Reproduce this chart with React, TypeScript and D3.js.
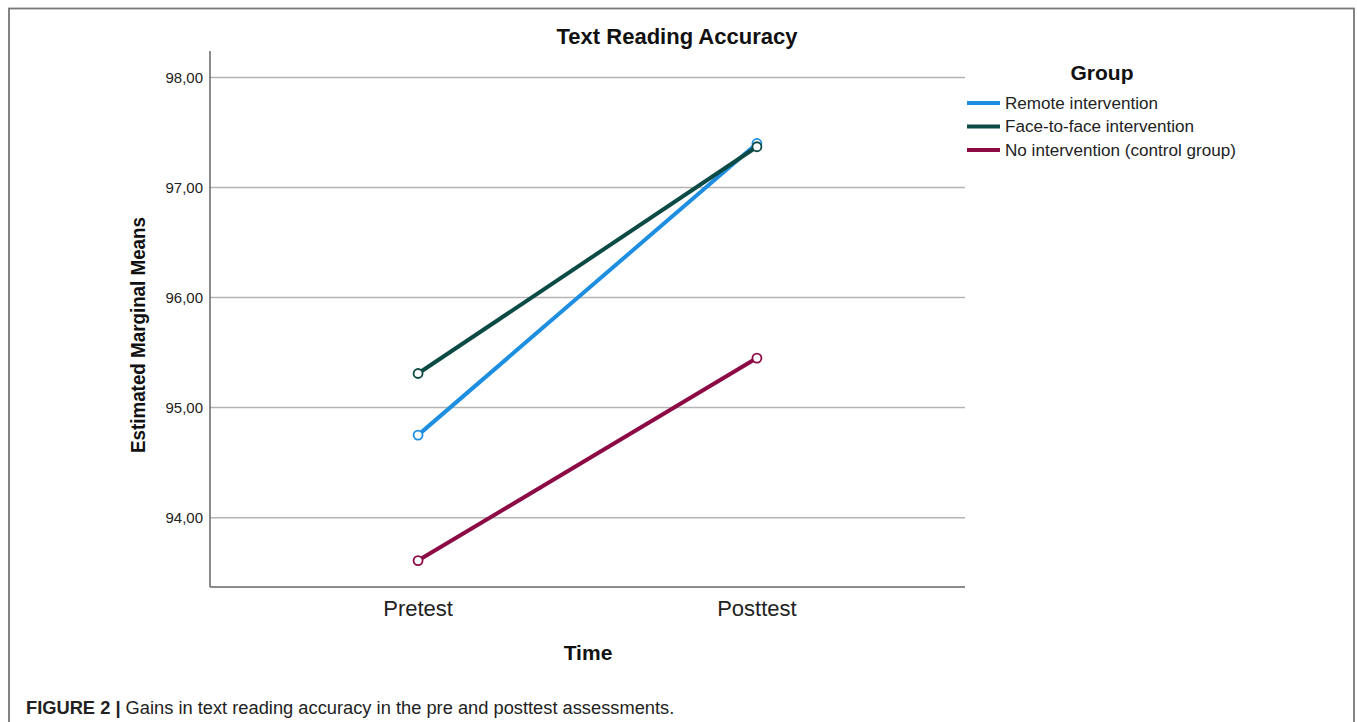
import React from "react";
import * as d3 from "d3";

const timePoints = ["Pretest", "Posttest"];
const groups = ["Remote intervention", "Face-to-face intervention", "No intervention (control group)"];
const remoteValues = [94.75, 97.4];
const faceValues = [95.31, 97.37];
const controlValues = [93.61, 95.45];
const groupColors = ["#1e8ee0", "#0c4b45", "#8c0b45"];
const yTicks = [94, 95, 96, 97, 98];
const yDomain = [93.37, 98.24];

const W = 1357;
const H = 722;
const plot = { left: 210, right: 965, top: 51, bottom: 587 };
const FONT = "'Liberation Sans', Arial, Helvetica, sans-serif";

export default function App() {
  const series = [remoteValues, faceValues, controlValues];
  const x = d3.scalePoint<string>().domain(timePoints).range([plot.left, plot.right]).padding(0.614);
  const y = d3.scaleLinear().domain(yDomain).range([plot.bottom, plot.top]);
  const line = d3
    .line<number>()
    .x((_, i) => x(timePoints[i]) as number)
    .y((d) => y(d));
  const fmt = (v: number) => v.toFixed(2).replace(".", ",");

  return (
    <svg width={W} height={H} style={{ position: "absolute", left: 0, top: 0, background: "#fff" }}>
      <rect x={9} y={8.5} width={1345} height={740} fill="none" stroke="#777" strokeWidth={1.8} />
      <text x={677} y={44} textAnchor="middle" fontFamily={FONT} fontWeight="bold" fontSize={22} fill="#111">
        Text Reading Accuracy
      </text>
      {yTicks.map((t) => (
        <g key={t}>
          <line x1={plot.left} x2={plot.right} y1={y(t)} y2={y(t)} stroke="#b4b4b4" strokeWidth={1.5} />
          <text x={203} y={y(t)} dy="0.35em" textAnchor="end" fontFamily={FONT} fontSize={15} fill="#222">
            {fmt(t)}
          </text>
        </g>
      ))}
      <line x1={plot.left} x2={plot.left} y1={plot.top} y2={plot.bottom} stroke="#666" strokeWidth={1.5} />
      <line x1={plot.left} x2={plot.right} y1={plot.bottom} y2={plot.bottom} stroke="#666" strokeWidth={1.5} />
      {timePoints.map((t) => (
        <text key={t} x={x(t)} y={616} textAnchor="middle" fontFamily={FONT} fontSize={22} fill="#222">
          {t}
        </text>
      ))}
      <text x={588} y={660} textAnchor="middle" fontFamily={FONT} fontWeight="bold" fontSize={21} fill="#111">
        Time
      </text>
      <text
        transform={`translate(145,335) rotate(-90)`}
        textAnchor="middle"
        fontFamily={FONT}
        fontWeight="bold"
        fontSize={20}
        fill="#111"
        textLength={236}
        lengthAdjust="spacingAndGlyphs"
      >
        Estimated Marginal Means
      </text>
      {series.map((s, i) => (
        <path key={i} d={line(s) || ""} fill="none" stroke={groupColors[i]} strokeWidth={4} />
      ))}
      {series.map((s, i) =>
        s.map((v, j) => (
          <circle
            key={`${i}-${j}`}
            cx={x(timePoints[j])}
            cy={y(v)}
            r={4.5}
            fill="#fff"
            stroke={groupColors[i]}
            strokeWidth={1.8}
          />
        ))
      )}
      <text x={1102} y={80} textAnchor="middle" fontFamily={FONT} fontWeight="bold" fontSize={21} fill="#111">
        Group
      </text>
      {groups.map((g, i) => (
        <g key={g}>
          <line x1={967} x2={1000} y1={103 + i * 23.5} y2={103 + i * 23.5} stroke={groupColors[i]} strokeWidth={4} />
          <text x={1005} y={103 + i * 23.5} dy="0.35em" fontFamily={FONT} fontSize={17.1} fill="#222">
            {g}
          </text>
        </g>
      ))}
      <text x={26} y={714} fontFamily={FONT} fontSize={18.3} fill="#222">
        <tspan fontWeight="bold">FIGURE 2 |</tspan>
        <tspan> Gains in text reading accuracy in the pre and posttest assessments.</tspan>
      </text>
    </svg>
  );
}
